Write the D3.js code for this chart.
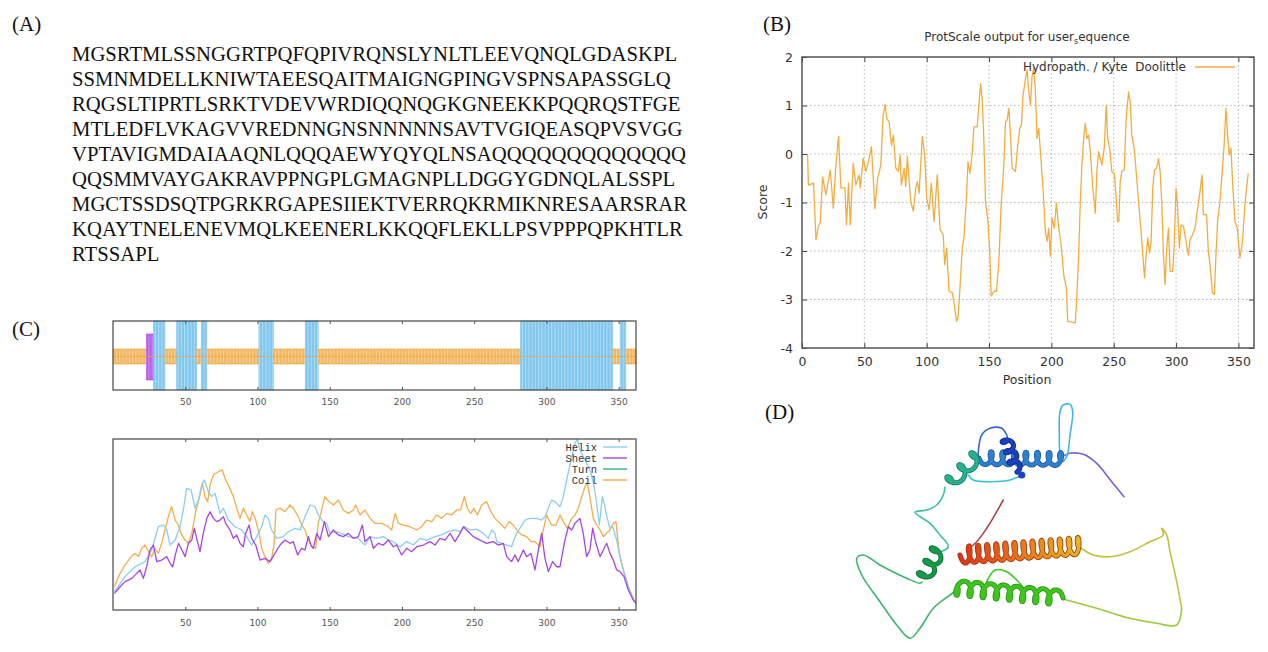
<!DOCTYPE html>
<html>
<head>
<meta charset="utf-8">
<script src="https://cdn.jsdelivr.net/npm/d3@7"></script>
<style>
  body { margin: 0; background: #fff; }
  svg { display: block; }
</style>
</head>
<body>
<svg id="fig" width="1268" height="652"></svg>
<script>
// ---- data ----
const seqLines = [
  "MGSRTMLSSNGGRTPQFQPIVRQNSLYNLTLEEVQNQLGDASKPL",
  "SSMNMDELLKNIWTAEESQAITMAIGNGPINGVSPNSAPASSGLQ",
  "RQGSLTIPRTLSRKTVDEVWRDIQQNQGKGNEEKKPQQRQSTFGE",
  "MTLEDFLVKAGVVREDNNGNSNNNNNSAVTVGIQEASQPVSVGG",
  "VPTAVIGMDAIAAQNLQQQAEWYQYQLNSAQQQQQQQQQQQQQ",
  "QQSMMVAYGAKRAVPPNGPLGMAGNPLLDGGYGDNQLALSSPL",
  "MGCTSSDSQTPGRKRGAPESIIEKTVERRQKRMIKNRESAARSRAR",
  "KQAYTNELENEVMQLKEENERLKKQQFLEKLLPSVPPPQPKHTLR",
  "RTSSAPL"
];

const panelLabels = ["(A)", "(B)", "(C)", "(D)"];

// (B) Kyte-Doolittle hydropathy, [position, score]
const hydropathy = [
  [4.5,0.0],[5.1,-0.64],[9.3,-0.6],[11.2,-1.77],[13.1,-1.5],[14.7,-1.4],[16.5,-0.47],[19.2,-0.84],
  [22.7,-0.33],[25.1,-1.12],[27.2,-0.23],[29.3,0.36],[31.2,-0.7],[34.4,-0.7],[35.7,-1.46],[37.3,-0.6],
  [38.7,-1.46],[41.1,-0.19],[43.2,-0.64],[45.9,-0.43],[46.7,-0.7],[49.1,-0.09],[51.2,-0.36],[53.3,-0.16],
  [55.7,0.15],[57.3,-0.57],[58.4,-1.13],[60.5,-0.53],[63.2,-0.23],[65.1,0.8],[66.7,1.02],[68,0.73],
  [69.9,0.66],[71.7,0.18],[73.3,0.39],[75.2,-0.29],[77.3,-0.36],[78.7,-0.02],[79.7,-0.64],[81.9,-0.29],
  [83.2,-0.67],[84.5,-0.05],[87.2,-0.98],[89.3,-1.18],[91.2,-0.7],[92.5,-0.57],[93.9,-0.81],[96.5,0.36],
  [98.4,-0.02],[100,-0.91],[101.9,-1.15],[103.7,-0.6],[105.9,-1.39],[108.5,-0.43],[110.7,-1.56],[113.3,-1.66],
  [114.4,-2.28],[116,-1.94],[117.9,-2.83],[120.5,-2.86],[121.9,-3.07],[124,-3.45],[125.1,-3.38],[126.7,-2.76],
  [128.5,-1.94],[129.9,-1.73],[132,-0.84],[133.1,-0.16],[134.7,-0.4],[136.5,0.01],[137.9,0.56],[140.5,0.56],
  [141.9,1.0],[143.2,1.45],[144.5,1.14],[145.9,0.25],[147.2,-0.99],[149.1,-1.39],[150.7,-2.08],[151.7,-2.93],
  [153.9,-2.83],[156,-2.83],[157.9,-2.21],[159.7,-1.05],[161.9,-0.23],[163.2,0.66],[164.5,0.7],[165.9,0.94],
  [167.2,0.39],[168.5,-0.29],[171.2,-0.36],[172.5,0.05],[174.7,0.53],[176,0.6],[177.3,1.21],[179.2,1.55],
  [180.5,1.73],[181.9,1.28],[183.2,1.01],[184.5,1.59],[185.9,1.79],[187.2,1.28],[188.5,0.32],[189.9,0.53],
  [191.2,0.05],[193.3,-0.71],[195.2,-1.6],[196.5,-1.8],[197.9,-1.53],[199.2,-2.11],[200.5,-1.32],[202.4,-1.53],
  [204,-1.01],[205.9,-1.53],[207.7,-1.84],[209.9,-2.49],[212,-2.76],[213.1,-3.45],[219.2,-3.48],[220.5,-2.9],
  [221.9,-2.08],[223.2,-0.98],[224.5,-0.23],[225.9,0.32],[227.2,0.63],[228.5,0.32],[229.9,0.39],[231.2,0.05],
  [233.3,-0.71],[235.2,-1.22],[236.5,-0.36],[237.9,0.05],[239.2,-0.09],[240.5,-0.23],[242.4,0.12],[244,1.0],
  [245.1,0.32],[246.7,0.12],[248.5,-0.36],[250.4,-0.4],[252,-0.91],[253.1,-1.39],[254.1,-1.39],[255.2,-0.57],
  [256.5,-0.36],[258.4,-0.33],[260,0.73],[261.9,1.28],[263.2,1.08],[264.5,0.39],[266.4,0.12],[268,-0.36],
  [269.9,-0.98],[271.7,-1.53],[273.3,-2.08],[274.7,-2.55],[276,-2.08],[277.3,-1.73],[278.7,-2.04],[280,-1.8],
  [281.3,-0.71],[282.7,-0.33],[284.5,-0.29],[285.9,-0.09],[287.2,-0.36],[288.5,-0.98],[289.9,-2.08],[291.2,-2.69],
  [292.5,-1.94],[293.9,-1.53],[295.2,-2.42],[297.3,-2.42],[298.4,-1.94],[300,-0.71],[301.1,-1.05],[302.7,-1.94],
  [304,-1.46],[305.9,-1.49],[308,-1.8],[309.9,-2.08],[311.2,-1.77],[313.3,-1.66],[315.2,-1.53],[317.3,-1.12],
  [319.2,-0.77],[320.8,-0.43],[321.9,-1.25],[324.5,-1.25],[325.9,-2.01],[327.2,-2.28],[329.1,-2.86],[330.7,-2.9],
  [332,-2.08],[333.3,-1.39],[335.2,-0.98],[336.8,-0.43],[338.4,0.12],[340,0.94],[341.3,0.39],[342.7,-0.02],
  [344,0.12],[345.3,-0.57],[347.2,-1.39],[349.1,-1.53],[351.2,-2.14],[353.3,-1.8],[355.2,-1.05],[356.5,-0.71],
  [357.9,-0.4]
];
const hydroTicksX = [0, 50, 100, 150, 200, 250, 300, 350];
const hydroTicksY = [-4, -3, -2, -1, 0, 1, 2];

// (C) secondary structure per residue range [start, end, type]
const ssSegments = [
  [1, 23, "coil"], [24, 28, "sheet"], [29, 36, "helix"], [37, 44, "coil"],
  [45, 58, "helix"], [59, 61, "coil"], [62, 65, "helix"], [66, 101, "coil"],
  [102, 111, "helix"], [112, 133, "coil"], [134, 142, "helix"], [143, 282, "coil"],
  [283, 346, "helix"], [347, 351, "coil"], [352, 355, "helix"], [356, 362, "coil"]
];
const seqLength = 362;
const ssTicks = [50, 100, 150, 200, 250, 300, 350];

// (C) prediction scores, [position, relative score]
const helixScore = [
  [1,0.107],[8.3,0.195],[15.3,0.253],[22.2,0.283],[26.8,0.351],[31.4,0.487],[34.9,0.497],[37.2,0.468],
  [39.5,0.38],[43,0.409],[46.4,0.487],[48.7,0.585],[51,0.711],[54,0.702],[56.8,0.595],[59.1,0.643],
  [61.4,0.731],[63.2,0.76],[66,0.692],[68.3,0.663],[70.6,0.682],[74.1,0.565],[76.4,0.595],[79.9,0.526],
  [84.5,0.487],[89.1,0.468],[92.5,0.429],[96,0.38],[99.5,0.429],[102.9,0.487],[105.2,0.556],[107.5,0.536],
  [109.8,0.468],[113.3,0.419],[117.9,0.429],[121.4,0.458],[126,0.478],[129.5,0.468],[132.9,0.546],[136.4,0.614],
  [139.8,0.604],[142.1,0.556],[145.6,0.517],[147.9,0.507],[150.2,0.448],[153.7,0.458],[158.3,0.448],[162.9,0.429],
  [169.8,0.419],[174.4,0.38],[177.9,0.429],[182.5,0.419],[187.1,0.429],[190.6,0.409],[194,0.4],[198.7,0.37],
  [203.3,0.4],[207.9,0.38],[212.5,0.419],[217.1,0.409],[222.9,0.429],[227.5,0.439],[232.1,0.458],[236.7,0.468],
  [240.2,0.458],[243.2,0.487],[247.1,0.468],[251.7,0.472],[256.3,0.448],[259.8,0.419],[262.1,0.468],[264.4,0.448],
  [265.6,0.4],[269,0.39],[272.5,0.38],[275.9,0.37],[277.5,0.409],[279.4,0.448],[281.7,0.478],[285.2,0.526],
  [288.6,0.536],[293.2,0.536],[296.7,0.526],[299,0.546],[301.3,0.595],[303.6,0.643],[305.9,0.634],[309.4,0.604],
  [311.7,0.663],[314,0.76],[317.5,0.897],[319.8,0.975],[321.4,1.0],[323.2,0.936],[326.7,0.877],[330.1,0.819],
  [332.4,0.75],[334.8,0.624],[336.6,0.497],[338.7,0.663],[340.5,0.604],[342.1,0.536],[344,0.478],[345.8,0.487],
  [348.6,0.409],[350.9,0.312],[353.2,0.234],[356.7,0.136],[360.1,0.058],[361.8,0.039]
];
const sheetScore = [
  [1,0.097],[4.9,0.136],[8.3,0.166],[13,0.185],[16.4,0.214],[18.7,0.234],[21,0.185],[23.3,0.253],
  [25.6,0.351],[28,0.38],[30.3,0.283],[33.7,0.292],[37.2,0.312],[39.5,0.273],[41.3,0.253],[43.4,0.331],
  [45.3,0.39],[47.1,0.361],[49.9,0.312],[52.2,0.39],[54.5,0.409],[56.3,0.478],[57.9,0.419],[60.2,0.341],
  [62.5,0.448],[64.9,0.536],[67.2,0.575],[69.5,0.536],[71.8,0.517],[74.1,0.526],[76.4,0.546],[78,0.507],
  [81,0.468],[83.3,0.419],[85.6,0.439],[87.9,0.39],[90.2,0.37],[91.8,0.448],[94.2,0.497],[96,0.419],
  [98.8,0.38],[101.8,0.292],[105.2,0.302],[108.7,0.283],[112.1,0.331],[115.6,0.38],[119.1,0.409],[122.5,0.39],
  [124.8,0.4],[127.8,0.322],[130.6,0.361],[132.9,0.351],[135.2,0.429],[137,0.38],[138.7,0.361],[141,0.448],
  [143.3,0.409],[146.3,0.517],[149.1,0.429],[152.5,0.468],[156,0.439],[159.4,0.429],[162.9,0.448],[166.4,0.419],
  [169.8,0.429],[172.6,0.497],[174.4,0.4],[177.9,0.429],[180.2,0.361],[183.7,0.39],[187.1,0.38],[190.6,0.409],
  [194,0.37],[196.3,0.38],[199.8,0.322],[203.3,0.361],[206.7,0.341],[210.2,0.37],[214.8,0.38],[219.4,0.4],
  [222.9,0.38],[226.3,0.419],[229.8,0.409],[233.3,0.448],[236.7,0.4],[240.2,0.448],[242.5,0.487],[246,0.458],
  [249.4,0.429],[254,0.409],[258.6,0.39],[263.2,0.4],[266.7,0.38],[270.2,0.39],[272.5,0.312],[275.9,0.283],
  [278.2,0.322],[280.5,0.283],[284,0.351],[286.3,0.312],[289.3,0.331],[292.1,0.234],[294.4,0.351],[296.7,0.448],
  [299,0.302],[301.3,0.224],[304.3,0.283],[307.1,0.253],[309.4,0.253],[312.8,0.409],[315.2,0.487],[317.5,0.468],
  [319.8,0.507],[323.2,0.536],[325.5,0.448],[327.8,0.312],[330.1,0.351],[332,0.478],[334.3,0.39],[337.1,0.312],
  [339.4,0.351],[341.7,0.39],[344,0.331],[346.3,0.292],[348.6,0.234],[350.9,0.224],[353.7,0.195],[356.7,0.117],
  [360.1,0.058],[361.8,0.043]
];
const turnScore = [];
const coilScore = [
  [1,0.136],[3.7,0.195],[8.3,0.263],[13,0.316],[15.3,0.331],[17.6,0.312],[19.9,0.361],[22.2,0.38],
  [24,0.351],[26.8,0.312],[29.1,0.361],[31.4,0.331],[33.7,0.39],[36,0.468],[38.3,0.546],[40.6,0.604],
  [43,0.526],[45.3,0.497],[47.1,0.448],[49.9,0.409],[52.2,0.39],[54.5,0.448],[57.2,0.575],[60.2,0.673],
  [61.9,0.741],[63.7,0.663],[65.5,0.634],[67.2,0.731],[69.5,0.789],[72.9,0.809],[75.7,0.819],[77.5,0.77],
  [80.3,0.721],[83.3,0.663],[85.6,0.595],[87.9,0.536],[90.2,0.595],[92.5,0.556],[94.8,0.517],[96.5,0.575],
  [98.8,0.526],[101.1,0.448],[102.9,0.361],[105.2,0.312],[107.5,0.273],[109.8,0.302],[111.5,0.39],[112.8,0.585],
  [115.6,0.595],[119.1,0.575],[122.5,0.614],[124.8,0.595],[128.3,0.546],[130.6,0.497],[132.9,0.468],[135.2,0.409],
  [137.5,0.37],[140.3,0.361],[142.1,0.507],[144.4,0.585],[146.7,0.663],[149.5,0.634],[152.5,0.614],[156,0.643],
  [159.4,0.585],[162.9,0.565],[166.4,0.585],[168,0.614],[171,0.556],[174.4,0.585],[177.9,0.536],[181.4,0.507],
  [186,0.507],[190.6,0.487],[192.9,0.468],[195.2,0.565],[197.5,0.507],[201,0.497],[205.6,0.487],[210.2,0.468],
  [213.7,0.487],[217.1,0.526],[220.6,0.517],[224,0.556],[227.5,0.536],[231,0.565],[234.4,0.556],[237.9,0.585],
  [240.6,0.585],[243.2,0.663],[245.3,0.595],[247.6,0.565],[249.9,0.595],[252.2,0.556],[255.2,0.614],[258.6,0.634],
  [261,0.585],[264.4,0.536],[267.9,0.507],[271.3,0.478],[274.3,0.517],[277.1,0.497],[279.4,0.468],[282.9,0.439],
  [286.3,0.429],[289.3,0.4],[292.1,0.4],[295.5,0.37],[297.9,0.468],[300.1,0.556],[303.6,0.497],[306.6,0.497],
  [309.4,0.556],[311.7,0.517],[314.4,0.478],[317.5,0.536],[319.8,0.556],[322.1,0.595],[324.4,0.663],[326.7,0.721],
  [328.3,0.745],[330.1,0.663],[332.4,0.536],[334.8,0.497],[337.1,0.468],[339.4,0.429],[341.7,0.448],[344,0.468],
  [346.3,0.507],[348.1,0.517],[350.4,0.331],[353.2,0.234],[356.7,0.136],[360.1,0.068],[361.8,0.039]
];
const scoreSeries = ["Helix", "Sheet", "Turn", "Coil"];

// (D) cartoon traced from the rendering, local image coordinates
const dLoops = [
  { color: "#6f63d6", pts: [[294,101.7],[281.7,86.7],[266.7,68.3],[253.3,59.3],[240,58.3],[230,63.3]] },
  { color: "#45b5e5", pts: [[230,66.7],[229.3,40],[230,16.7],[233.3,10],[240,9.3],[242.7,16.7],[240,40],[237.3,60],[233.3,66.7]] },
  { color: "#3a68c8", pts: [[148.3,63],[148.3,56.7],[151.7,40],[160,33.3],[171.7,33.3],[176.7,40],[178.3,46.7]] },
  { color: "#35c2cf", pts: [[191.7,80],[180,85],[160,86.7],[143.3,85],[138.3,80]] },
  { color: "#3cc0a0", pts: [[115,92],[113.3,100],[106.7,110],[96.7,115],[85,117.3],[100,128.3],[110,140],[118.3,151.7],[107,158]] },
  { color: "#3bb56c", pts: [[92,187],[90,188.3],[76.7,183.3],[50,170],[33.3,160],[26.7,163.3],[31.7,180],[50,206.7],[66.7,230],[80,243.3],[90,233.3],[103.3,213.3],[120,200],[128.3,194]] },
  { color: "#3cc828", pts: [[156.7,186.7],[165,175],[176.7,176.7],[186.7,185],[195,195]] },
  { color: "#9cc840", pts: [[233,204],[266.7,213.3],[300,223.3],[326.7,228.3],[346.7,230],[351.7,213.3]] },
  { color: "#c4bf3c", pts: [[351.7,213.3],[346.7,186.7],[340,156.7],[336.7,140],[331.7,133.3],[333.3,140],[320,146.7],[300,156.7],[280,161.7],[263.3,160],[248,151]] },
  { color: "#a84848", pts: [[136.7,155],[146.7,146.7],[156.7,133.3],[166.7,116.7],[173.3,105]] }
];
const dHelices = [
  { color: "#2f7fcf", dark: "#1d5a9e", a: [230,64], b: [149,63], turns: 7, r: 6.5 },
  { color: "#1a3fbf", dark: "#10288a", a: [177,46], b: [187,77], turns: 3, r: 5 },
  { color: "#27b08e", dark: "#17806a", a: [145,63], b: [115,93], turns: 2.5, r: 6.5 },
  { color: "#16994a", dark: "#0d7034", a: [107,157], b: [91,188], turns: 2.5, r: 7 },
  { color: "#3dc61c", dark: "#2a9212", a: [128,193], b: [233,203], turns: 8, r: 7.5 },
  { color: "url(#redHelix)", dark: "#9a3a10", a: [248,151], b: [130,160], turns: 13, r: 8.5 }
];

// ---- drawing ----
const svg = d3.select("#fig");

// panel labels
const labelPos = [[12, 31], [763, 31], [12, 336], [765, 419]];
svg.selectAll("text.plabel")
  .data(panelLabels)
  .join("text")
  .attr("class", "plabel")
  .attr("x", (d, i) => labelPos[i][0])
  .attr("y", (d, i) => labelPos[i][1])
  .attr("font-family", "Liberation Serif, Times New Roman, serif")
  .attr("font-size", 21)
  .attr("fill", "#111")
  .text(d => d);

// (A) sequence
svg.append("g")
  .selectAll("text")
  .data(seqLines)
  .join("text")
  .attr("x", 72)
  .attr("y", (d, i) => 61 + i * 25)
  .attr("font-family", "Liberation Serif, Times New Roman, serif")
  .attr("font-size", 20.7)
  .attr("fill", "#111")
  .text(d => d);

// (B) ProtScale plot
const xB = d3.scaleLinear().domain([0, 362.5]).range([802, 1254]);
const yB = d3.scaleLinear().domain([-4, 2]).range([348, 57]);
const gB = svg.append("g").attr("font-family", "DejaVu Sans, sans-serif");

gB.append("g")
  .selectAll("line")
  .data(hydroTicksX.filter(d => d > 0))
  .join("line")
  .attr("x1", d => xB(d)).attr("x2", d => xB(d))
  .attr("y1", yB(2)).attr("y2", yB(-4))
  .attr("stroke", "#b5b5b5").attr("stroke-dasharray", "1.5,2.5");
gB.append("g")
  .selectAll("line")
  .data(hydroTicksY.filter(d => d > -4 && d < 2))
  .join("line")
  .attr("x1", xB.range()[0]).attr("x2", xB.range()[1])
  .attr("y1", d => yB(d)).attr("y2", d => yB(d))
  .attr("stroke", "#b5b5b5").attr("stroke-dasharray", "1.5,2.5");

const axB = (sel) => {
  sel.select(".domain").remove();
  sel.selectAll(".tick line").attr("stroke", "#444");
  sel.selectAll(".tick text").attr("fill", "#333").attr("font-size", 12.5)
    .attr("font-family", "DejaVu Sans, sans-serif");
};
const plainNum = d => String(d);
gB.append("g").attr("transform", `translate(0,${yB(-4)})`)
  .call(d3.axisBottom(xB).tickValues(hydroTicksX).tickSize(-5).tickPadding(9).tickFormat(plainNum)).call(axB);
gB.append("g").attr("transform", `translate(0,${yB(2)})`)
  .call(d3.axisTop(xB).tickValues(hydroTicksX).tickSize(-5).tickFormat("")).call(axB);
gB.append("g").attr("transform", `translate(${xB.range()[0]},0)`)
  .call(d3.axisLeft(yB).tickValues(hydroTicksY).tickSize(-5).tickPadding(9).tickFormat(plainNum)).call(axB);
gB.append("g").attr("transform", `translate(${xB.range()[1]},0)`)
  .call(d3.axisRight(yB).tickValues(hydroTicksY).tickSize(-5).tickFormat("")).call(axB);

gB.append("path")
  .datum(hydropathy)
  .attr("fill", "none")
  .attr("stroke", "#f3ad3f")
  .attr("stroke-width", 1.3)
  .attr("stroke-linejoin", "round")
  .attr("d", d3.line().x(d => xB(d[0])).y(d => yB(d[1])));

gB.append("rect")
  .attr("x", xB.range()[0]).attr("y", yB(2))
  .attr("width", xB.range()[1] - xB.range()[0]).attr("height", yB(-4) - yB(2))
  .attr("fill", "none").attr("stroke", "#555").attr("stroke-width", 1.5);

const title = gB.append("text")
  .attr("x", 1027).attr("y", 41)
  .attr("text-anchor", "middle").attr("font-size", 12).attr("fill", "#333");
title.append("tspan").text("ProtScale output for user");
title.append("tspan").attr("dy", 3).attr("font-size", 8).text("s");
title.append("tspan").attr("dy", -3).text("equence");

gB.append("text")
  .attr("x", 1186).attr("y", 71)
  .attr("text-anchor", "end").attr("font-size", 12).attr("fill", "#333")
  .style("white-space", "pre")
  .text("Hydropath. / Kyte  Doolittle");
gB.append("line")
  .attr("x1", 1195).attr("x2", 1235).attr("y1", 67).attr("y2", 67)
  .attr("stroke", "#f3ad3f").attr("stroke-width", 1.3);

gB.append("text")
  .attr("x", 1027).attr("y", 384)
  .attr("text-anchor", "middle").attr("font-size", 12.5).attr("fill", "#333")
  .text("Position");
gB.append("text")
  .attr("transform", "translate(767,202) rotate(-90)")
  .attr("text-anchor", "middle").attr("font-size", 12.5).attr("fill", "#333")
  .text("Score");

// (C) secondary structure track
const xC = d3.scaleLinear().domain([0, seqLength]).range([113, 636]);
const ssStyle = {
  coil:  { fill: "#f8d296", stroke: "#eca33a", y0: 349, y1: 364 },
  helix: { fill: "#b0ddf6", stroke: "#5ab4e6", y0: 321, y1: 390 },
  sheet: { fill: "#cf8cf2", stroke: "#a23ed6", y0: 334, y1: 380 }
};
const residues = [];
ssSegments.forEach(([s, e, type]) => {
  for (let i = s; i <= e; i++) residues.push({ i, type });
});
const gC = svg.append("g");
gC.append("g")
  .selectAll("rect")
  .data(residues)
  .join("rect")
  .attr("x", d => xC(d.i - 1))
  .attr("width", d => xC(d.i) - xC(d.i - 1))
  .attr("y", d => ssStyle[d.type].y0)
  .attr("height", d => ssStyle[d.type].y1 - ssStyle[d.type].y0)
  .attr("fill", d => ssStyle[d.type].fill)
  .attr("stroke", d => ssStyle[d.type].stroke)
  .attr("stroke-width", 0.45);
gC.append("line")
  .attr("x1", xC(0)).attr("x2", xC(seqLength))
  .attr("y1", 356.5).attr("y2", 356.5)
  .attr("stroke", "#eca33a").attr("stroke-width", 0.8).attr("opacity", 0.8);

const axC = (sel) => {
  sel.select(".domain").remove();
  sel.selectAll(".tick line").attr("stroke", "#555");
  sel.selectAll(".tick text").attr("fill", "#555").attr("font-size", 9)
    .attr("font-family", "DejaVu Sans, Verdana, sans-serif");
};
function frameC(y0, y1, labelPad) {
  gC.append("g").attr("transform", `translate(0,${y1})`)
    .call(d3.axisBottom(xC).tickValues(ssTicks).tickSize(-3).tickPadding(labelPad)).call(axC);
  gC.append("g").attr("transform", `translate(0,${y0})`)
    .call(d3.axisTop(xC).tickValues(ssTicks).tickSize(-3).tickFormat("")).call(axC);
  gC.append("rect")
    .attr("x", xC(0)).attr("y", y0)
    .attr("width", xC(seqLength) - xC(0)).attr("height", y1 - y0)
    .attr("fill", "none").attr("stroke", "#555").attr("stroke-width", 1.3);
}
frameC(321, 390, 9);

// (C) score curves
const yC = d3.scaleLinear().domain([0, 1]).range([610, 439]);
const scoreData = [helixScore, sheetScore, turnScore, coilScore];
const scoreColor = ["#8ccdf1", "#a646df", "#2fb380", "#f2ad4c"];
const lineC = d3.line().x(d => xC(d[0])).y(d => yC(d[1]));
gC.append("g")
  .selectAll("path")
  .data([3, 0, 1, 2])
  .join("path")
  .attr("fill", "none")
  .attr("stroke", k => scoreColor[k])
  .attr("stroke-width", 1.3)
  .attr("stroke-linejoin", "round")
  .attr("d", k => scoreData[k].length ? lineC(scoreData[k]) : null);
frameC(439, 610, 10);

const leg = gC.append("g").attr("font-family", "Liberation Mono, DejaVu Sans Mono, monospace");
scoreSeries.forEach((name, k) => {
  const y = 447 + k * 11;
  leg.append("text").attr("x", 597).attr("y", y + 3.5)
    .attr("text-anchor", "end").attr("font-size", 10.5).attr("fill", "#333").text(name);
  leg.append("line").attr("x1", 603).attr("x2", 627).attr("y1", y).attr("y2", y)
    .attr("stroke", scoreColor[k]).attr("stroke-width", 1.4);
});

// (D) structure cartoon
const xD = d3.scaleLinear().domain([0, 380]).range([830, 1210]);
const yD = d3.scaleLinear().domain([0, 255]).range([395, 650]);
const defs = svg.append("defs");
const grad = defs.append("linearGradient").attr("id", "redHelix")
  .attr("gradientUnits", "userSpaceOnUse")
  .attr("x1", xD(248)).attr("x2", xD(130)).attr("y1", 0).attr("y2", 0);
grad.append("stop").attr("offset", "0%").attr("stop-color", "#e7b51c");
grad.append("stop").attr("offset", "45%").attr("stop-color", "#ec7a16");
grad.append("stop").attr("offset", "100%").attr("stop-color", "#e0301a");

const curve = d3.line().x(d => xD(d[0])).y(d => yD(d[1])).curve(d3.curveCatmullRom);
const gD = svg.append("g");
gD.selectAll("path.loop")
  .data(dLoops)
  .join("path")
  .attr("class", "loop")
  .attr("fill", "none")
  .attr("stroke", d => d.color)
  .attr("stroke-width", 1.6)
  .attr("stroke-linecap", "round")
  .attr("d", d => curve(d.pts));

function helixCoil(h) {
  const dx = h.b[0] - h.a[0], dy = h.b[1] - h.a[1], L = Math.hypot(dx, dy);
  const ux = dx / L, uy = dy / L, nx = -uy, ny = ux;
  const c = (L / h.turns) * 0.3;
  const n = Math.round(h.turns * 28);
  return d3.range(n + 1).map(k => {
    const t = k / n, th = 2 * Math.PI * h.turns * t;
    const along = L * t + c * Math.cos(th) - c;
    const side = h.r * Math.sin(th);
    return [h.a[0] + ux * along + nx * side, h.a[1] + uy * along + ny * side];
  });
}
const plain = d3.line().x(d => xD(d[0])).y(d => yD(d[1])).curve(d3.curveBasis);
dHelices.forEach(h => {
  const pts = helixCoil(h);
  gD.append("path").attr("d", plain(pts)).attr("fill", "none")
    .attr("stroke", h.dark).attr("stroke-width", 5).attr("stroke-linecap", "round");
  gD.append("path").attr("d", plain(pts)).attr("fill", "none")
    .attr("stroke", h.color).attr("stroke-width", 3.3).attr("stroke-linecap", "round");
});
gD.append("circle").attr("cx", xD(191.7)).attr("cy", yD(80)).attr("r", 3.6).attr("fill", "#1f40c8");
</script>
</body>
</html>
